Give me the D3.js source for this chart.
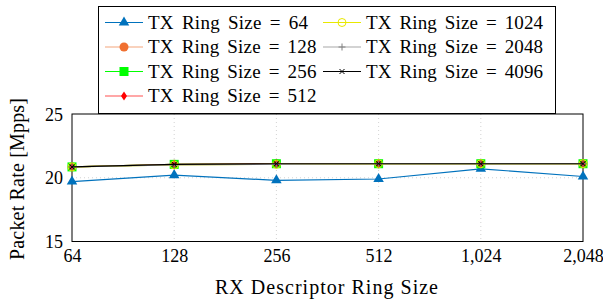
<!DOCTYPE html>
<html>
<head>
<meta charset="utf-8">
<script src="https://cdn.jsdelivr.net/npm/d3@7"></script>
<style>
  body { margin: 0; background: #fff; }
  svg { display: block; }
  svg text { font-family: "Liberation Serif", serif; }
</style>
</head>
<body>
<svg id="chart" width="603" height="302"></svg>
<script>
// RX descriptor ring sizes (x axis, log2)
const rxSizes = [64, 128, 256, 512, 1024, 2048];
const yTicks = [15, 20, 25];

// packet rate [Mpps] per TX ring size
const tx64 = [19.7, 20.2, 19.8, 19.9, 20.7, 20.1];
const tx128 = [20.85, 21.05, 21.1, 21.1, 21.1, 21.1];
const tx256 = [20.85, 21.05, 21.1, 21.1, 21.1, 21.1];
const tx512 = [20.85, 21.05, 21.1, 21.1, 21.1, 21.1];
const tx1024 = [20.85, 21.0, 21.05, 21.1, 21.1, 21.1];
const tx2048 = [20.85, 21.0, 21.05, 21.1, 21.1, 21.1];
const tx4096 = [20.85, 21.05, 21.1, 21.1, 21.1, 21.1];

const series = [
  { name: "TX Ring Size = 64", values: tx64, color: "#0072bd", marker: "triangle" },
  { name: "TX Ring Size = 128", values: tx128, color: "#f4a57c", mcolor: "#f07030", marker: "circle" },
  { name: "TX Ring Size = 256", values: tx256, color: "#00ff00", marker: "square" },
  { name: "TX Ring Size = 512", values: tx512, color: "#ff5050", mcolor: "#ff0000", marker: "diamond" },
  { name: "TX Ring Size = 1024", values: tx1024, color: "#e8e800", marker: "ocircle" },
  { name: "TX Ring Size = 2048", values: tx2048, color: "#a8a8a8", mcolor: "#808080", marker: "plus" },
  { name: "TX Ring Size = 4096", values: tx4096, color: "#000000", marker: "cross" }
];

const svg = d3.select("#chart");
const pLeft = 72, pRight = 583, pTop = 114, pBottom = 241.5;
const serif = "'Liberation Serif', serif";

const x = d3.scaleLog().base(2).domain([64, 2048]).range([pLeft, pRight]);
const y = d3.scaleLinear().domain([15, 25]).range([pBottom, pTop]);

// grid
svg.append("g").selectAll("line").data(rxSizes.slice(1, -1)).enter().append("line")
  .attr("x1", d => x(d)).attr("x2", d => x(d)).attr("y1", pTop).attr("y2", pBottom)
  .attr("stroke", "#c8c8c8").attr("stroke-width", 0.8).attr("stroke-dasharray", "1,3");
svg.append("g").selectAll("line").data([20]).enter().append("line")
  .attr("x1", pLeft).attr("x2", pRight).attr("y1", d => y(d)).attr("y2", d => y(d))
  .attr("stroke", "#c8c8c8").attr("stroke-width", 0.8).attr("stroke-dasharray", "1,3");

// axes
const fmt = d3.format(",");
const xAxis = svg.append("g").attr("transform", `translate(0,${pBottom})`)
  .call(d3.axisBottom(x).tickValues(rxSizes).tickFormat(fmt).tickSize(0).tickPadding(8));
const yAxis = svg.append("g").attr("transform", `translate(${pLeft},0)`)
  .call(d3.axisLeft(y).tickValues(yTicks).tickSize(0).tickPadding(9));
[xAxis, yAxis].forEach(a => {
  a.attr("font-family", serif);
  a.select(".domain").remove();
  a.selectAll("text").style("font-family", serif).attr("font-size", 18).attr("fill", "#000");
});
xAxis.selectAll("text").attr("dy", "0.72em");
yAxis.selectAll("text").attr("dy", "0.34em");

svg.append("rect").attr("x", pLeft).attr("y", pTop).attr("width", pRight - pLeft).attr("height", pBottom - pTop)
  .attr("fill", "none").attr("stroke", "#000").attr("stroke-width", 1);

// marker drawing
function drawMarker(g, type, color) {
  if (type === "triangle") {
    g.append("path").attr("d", d3.symbol(d3.symbolTriangle, 48)()).attr("fill", color);
  } else if (type === "circle") {
    g.append("circle").attr("r", 4.5).attr("fill", color);
  } else if (type === "square") {
    g.append("rect").attr("x", -4.5).attr("y", -4.5).attr("width", 9).attr("height", 9).attr("fill", color);
  } else if (type === "diamond") {
    g.append("path").attr("d", "M0,-4.5L3,0L0,4.5L-3,0Z").attr("fill", color);
  } else if (type === "ocircle") {
    g.append("circle").attr("r", 4).attr("fill", "none").attr("stroke", color).attr("stroke-width", 1);
  } else if (type === "plus") {
    g.append("path").attr("d", "M-3.5,0H3.5M0,-3.5V3.5").attr("stroke", color).attr("stroke-width", 1);
  } else if (type === "cross") {
    g.append("path").attr("d", "M-2.5,-2.5L2.5,2.5M-2.5,2.5L2.5,-2.5")
      .attr("stroke", color).attr("stroke-width", 1);
  }
}

const line = d3.line().x((d, i) => x(rxSizes[i])).y(d => y(d));
series.forEach(s => {
  svg.append("path").attr("d", line(s.values)).attr("fill", "none")
    .attr("stroke", s.color).attr("stroke-width", 1.2);
  s.values.forEach((v, i) => {
    const g = svg.append("g").attr("transform", `translate(${x(rxSizes[i])},${y(v)})`);
    drawMarker(g, s.marker, s.mcolor || s.color);
  });
});

// legend
const lg = svg.append("g");
lg.append("rect").attr("x", 98.5).attr("y", 6.5).attr("width", 457).attr("height", 107)
  .attr("fill", "#fff").attr("stroke", "#000").attr("stroke-width", 1);
const rowY = [22.5, 47, 71.5, 96];
series.forEach((s, i) => {
  const col = i < 4 ? 0 : 1;
  const row = i < 4 ? i : i - 4;
  const x0 = col === 0 ? 105 : 323;
  const yy = rowY[row];
  lg.append("line").attr("x1", x0).attr("x2", x0 + 38).attr("y1", yy).attr("y2", yy)
    .attr("stroke", s.color).attr("stroke-width", 1.2);
  const g = lg.append("g").attr("transform", `translate(${x0 + 19},${yy})`);
  drawMarker(g, s.marker, s.mcolor || s.color);
  const nd = s.name.length - 17;
  lg.append("text").attr("x", x0 + 43).attr("y", yy + 6)
    .style("font-family", serif).style("word-spacing", "3px")
    .attr("font-size", 19).attr("textLength", 160 + nd * 8.5)
    .text(s.name);
});

// axis titles
svg.append("text").attr("x", 326.5).attr("y", 294).attr("text-anchor", "middle")
  .style("font-family", serif).attr("font-size", 20).attr("textLength", 223).text("RX Descriptor Ring Size");
svg.append("text").attr("transform", "translate(24,179) rotate(-90)").attr("text-anchor", "middle")
  .style("font-family", serif).attr("font-size", 20).attr("textLength", 162).text("Packet Rate [Mpps]");
</script>
</body>
</html>
